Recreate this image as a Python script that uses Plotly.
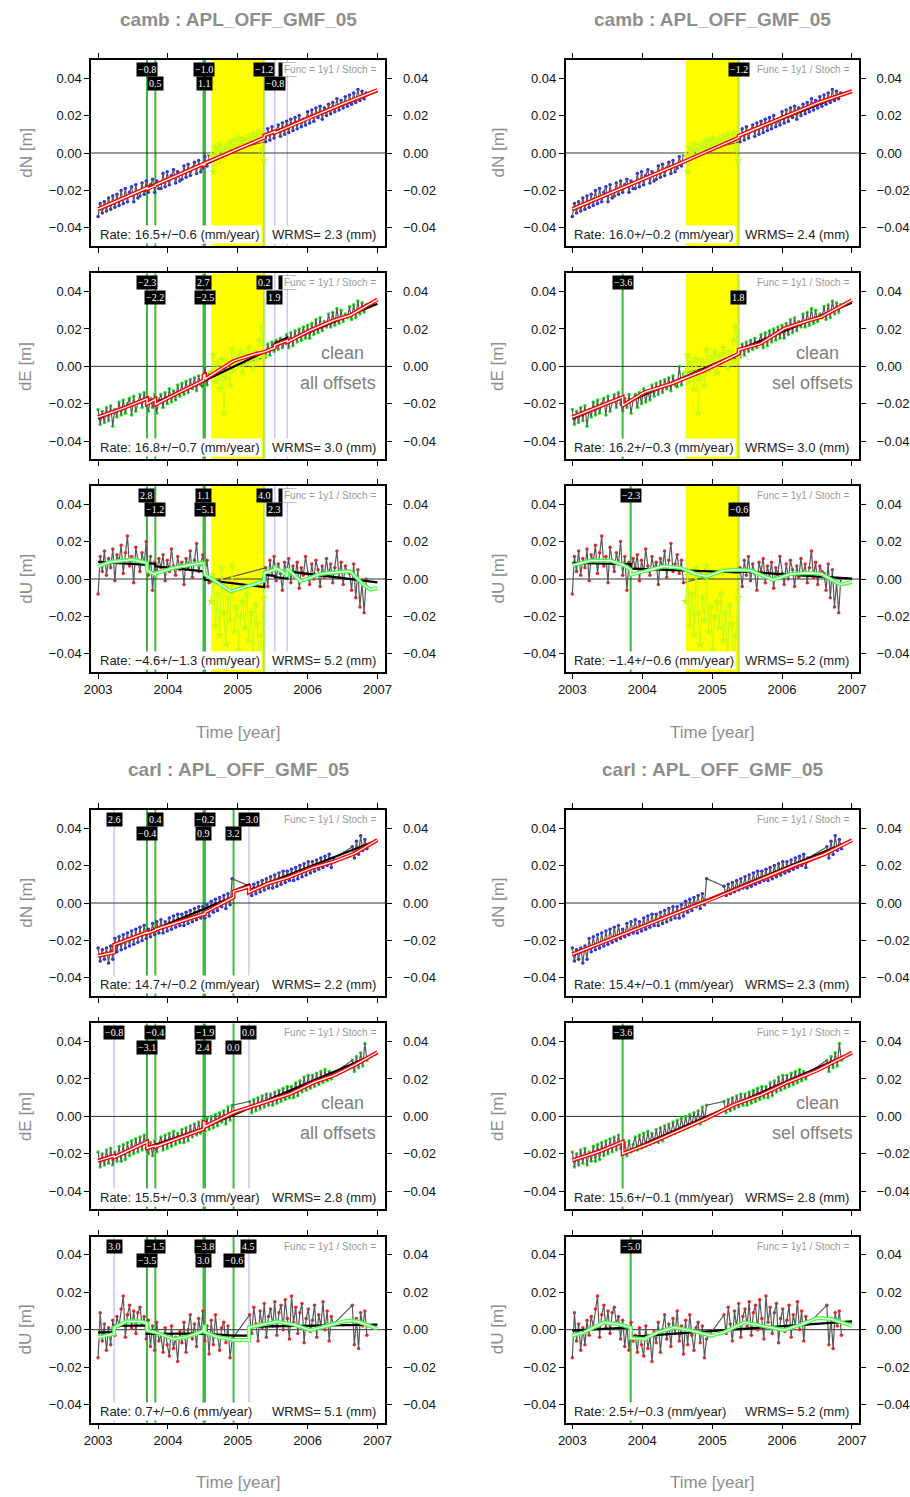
import plotly.graph_objects as go

W, H = 910, 1497

# ---------------- axis ticks ----------------
X_TICK_VALS = [2003, 2004, 2005, 2006, 2007]
X_TICK_TEXT = ["2003", "2004", "2005", "2006", "2007"]
Y_TICK_VALS = [-0.04, -0.02, 0.0, 0.02, 0.04]
Y_TICK_TEXT = ["\u22120.04", "\u22120.02", "0.00", "0.02", "0.04"]

# ---------------- camb data (mm) ----------------
CAMB_T = [2003.00, 2003.03, 2003.06, 2003.09, 2003.12, 2003.15, 2003.18, 2003.21, 2003.24, 2003.27,
          2003.30, 2003.33, 2003.36, 2003.39, 2003.42, 2003.45, 2003.48, 2003.51, 2003.54, 2003.57,
          2003.60, 2003.63, 2003.66, 2003.69, 2003.72, 2003.75, 2003.78, 2003.81, 2003.84, 2003.87,
          2003.90, 2003.93, 2003.96, 2003.99, 2004.02, 2004.05, 2004.08, 2004.11, 2004.14, 2004.17,
          2004.20, 2004.23, 2004.26, 2004.29, 2004.32, 2004.35, 2004.38, 2004.41, 2004.44, 2004.47,
          2004.50, 2004.53, 2004.56, 2004.59, 2004.62, 2004.65, 2004.68, 2004.71, 2004.74, 2004.77,
          2004.80, 2004.83, 2004.86, 2004.89, 2004.92, 2004.95, 2004.98, 2005.01, 2005.04, 2005.07,
          2005.10, 2005.13, 2005.16, 2005.19, 2005.22, 2005.25, 2005.28, 2005.31, 2005.34, 2005.37,
          2005.40, 2005.43, 2005.46, 2005.49, 2005.52, 2005.55, 2005.58, 2005.61, 2005.64, 2005.67,
          2005.70, 2005.73, 2005.76, 2005.79, 2005.82, 2005.85, 2005.88, 2005.91, 2005.94, 2005.97,
          2006.00, 2006.03, 2006.06, 2006.09, 2006.12, 2006.15, 2006.18, 2006.21, 2006.24, 2006.27,
          2006.30, 2006.33, 2006.36, 2006.39, 2006.42, 2006.45, 2006.48, 2006.51, 2006.54, 2006.57,
          2006.60, 2006.63, 2006.66, 2006.69, 2006.72, 2006.75, 2006.78, 2006.81, 2006.84]
CAMB_N = [-34, -27, -32, -26, -31, -24, -30, -23, -29, -22,
          -28, -20, -27, -19, -26, -21, -18, -26, -17, -24,
          -23, -16, -22, -15, -21, -17, -14, -21, -15, -19,
          -19, -11, -18, -10, -17, -12, -9, -16, -10, -15,
          -14, -7, -13, -6, -12, -8, -5, -11, -4, -10,
          -8, -2, -7, -1, -1, -10, 3, 0, 5, 2,
          1, 4, 2, 6, 3, 7, 4, 8, 5, 6,
          7, 5, 9, 6, 10, 7, 8, 11, 2, -4,
          6, 13, 7, 14, 8, 12, 15, 9, 16, 10,
          17, 11, 18, 12, 19, 13, 20, 14, 18, 15,
          22, 16, 23, 17, 24, 19, 25, 18, 24, 20,
          26, 21, 27, 22, 29, 23, 28, 24, 30, 25,
          31, 26, 32, 27, 34, 28, 33, 29, 32]
CAMB_E = [-23, -31, -24, -30, -22, -29, -21, -32, -23, -27,
          -19, -26, -18, -25, -20, -17, -26, -16, -24, -19,
          -15, -22, -14, -20, -24, -17, -22, -15, -25, -18,
          -15, -22, -14, -20, -12, -19, -13, -18, -10, -16,
          -9, -15, -8, -14, -7, -12, -6, -13, -5, -10,
          -11, 0, -10, -4, -3, 6, -8, 2, -12, 4,
          -25, -6, 3, -10, 9, -2, 5, 1, 8, -3,
          6, 2, 10, 4, -1, 8, 3, 14, 21, 5,
          5, 12, 6, 13, 8, 14, 9, 15, 10, 13,
          17, 10, 18, 11, 19, 13, 20, 14, 21, 15,
          22, 15, 23, 17, 25, 18, 26, 19, 24, 21,
          28, 21, 29, 22, 31, 23, 30, 24, 28, 26,
          32, 25, 33, 26, 35, 28, 34, 29, 33]
CAMB_U = [-8, 12, 4, 15, 2, 11, 6, 16, -1, 13,
          9, 18, 3, 14, 23, 7, 12, -2, 17, 10,
          4, 14, 8, 20, 2, 12, -6, 9, 3, 11,
          6, 13, -1, 10, 4, 16, 7, 2, 12, 5,
          9, -3, 11, 6, 15, 1, 10, 19, 4, 8,
          13, 3, 10, -2, -12, 2, -25, -8, -30, 6,
          -18, -35, -10, -22, 7, -28, -15, -38, -20, -12,
          -26, -8, -33, -18, -40, -14, -24, -45, -30, -10,
          6, -4, 10, 2, 12, -1, 8, 3, -6, 9,
          4, 11, -2, 7, 1, 9, -5, 6, 2, 12,
          3, -3, 8, 0, 10, 5, -4, 7, 1, 11,
          2, 8, -2, 6, 15, 1, 9, -3, 7, 4,
          3, -6, 8, -10, 5, -15, -2, -18, 0]
CAMB_EXCL_START = 2004.62
CAMB_EXCL_END = 2005.38

# ---------------- carl data (mm) ----------------
CARL_T = [2003.00, 2003.03, 2003.06, 2003.09, 2003.12, 2003.15, 2003.18, 2003.21, 2003.24, 2003.27,
          2003.30, 2003.33, 2003.36, 2003.39, 2003.42, 2003.45, 2003.48, 2003.51, 2003.54, 2003.57,
          2003.60, 2003.63, 2003.66, 2003.69, 2003.72, 2003.75, 2003.78, 2003.81, 2003.84, 2003.87,
          2003.90, 2003.93, 2003.96, 2003.99, 2004.02, 2004.05, 2004.08, 2004.11, 2004.14, 2004.17,
          2004.20, 2004.23, 2004.26, 2004.29, 2004.32, 2004.35, 2004.38, 2004.41, 2004.44, 2004.47,
          2004.50, 2004.53, 2004.56, 2004.59, 2004.62, 2004.65, 2004.68, 2004.71, 2004.74, 2004.77,
          2004.80, 2004.83, 2004.86, 2004.89, 2004.92,
          2005.17, 2005.20, 2005.23, 2005.26, 2005.29, 2005.32, 2005.35, 2005.38, 2005.41, 2005.44,
          2005.47, 2005.50, 2005.53, 2005.56, 2005.59, 2005.62, 2005.65, 2005.68, 2005.71, 2005.74,
          2005.77, 2005.80, 2005.83, 2005.86, 2005.89, 2005.92, 2005.95, 2005.98, 2006.01, 2006.04,
          2006.07, 2006.10, 2006.13, 2006.16, 2006.19, 2006.22, 2006.25, 2006.28, 2006.31, 2006.34,
          2006.37,
          2006.64, 2006.67, 2006.70, 2006.73, 2006.76, 2006.79, 2006.82, 2006.85]
CARL_N = [-24, -31, -25, -30, -24, -32, -23, -30, -19, -26,
          -18, -25, -17, -24, -16, -23, -15, -22, -14, -21,
          -13, -20, -12, -19, -14, -18, -11, -17, -10, -16,
          -9, -16, -10, -15, -8, -14, -7, -13, -6, -12,
          -6, -12, -5, -11, -4, -10, -3, -9, -2, -8,
          -2, -8, -1, -7, 1, -5, 2, -4, 3, -2,
          4, -3, 5, -1, 13,
          9, 4, 10, 5, 11, 6, 12, 7, 13, 8,
          14, 8, 15, 9, 16, 10, 17, 11, 17, 12,
          18, 12, 19, 13, 20, 14, 21, 15, 22, 16,
          22, 17, 23, 18, 24, 19, 25, 20, 26, 19,
          24,
          30, 24, 33, 26, 36, 28, 34, 29]
CARL_E = [-19, -27, -20, -26, -18, -25, -17, -26, -19, -24,
          -16, -24, -15, -23, -14, -21, -13, -20, -12, -19,
          -11, -18, -10, -17, -20, -14, -21, -13, -19, -15,
          -11, -18, -10, -17, -9, -16, -8, -15, -9, -14,
          -7, -14, -6, -13, -5, -11, -4, -10, -3, -9,
          -2, -8, -1, -7, 0, -6, 1, -5, 2, -3,
          3, -4, 5, -2, 6,
          8, 2, 9, 3, 10, 4, 11, 5, 12, 6,
          12, 6, 13, 7, 14, 8, 15, 9, 16, 10,
          16, 10, 18, 11, 19, 13, 21, 14, 22, 15,
          22, 16, 23, 17, 24, 18, 25, 19, 24, 20,
          23,
          30, 24, 32, 26, 34, 27, 39, 30]
CARL_U = [-15, 9, -6, 3, -11, 1, -8, 5, -3, 7,
          2, 11, 18, -4, 8, 13, 1, 10, -2, 9,
          12, 3, 7, -5, 5, -9, 2, -11, 4, -6,
          -3, -12, 1, -8, -14, 2, -10, -4, -17, -1,
          -7, 4, -12, 0, 8, -5, 3, -9, 6, -2,
          10, -6, 2, -13, 5, -8, 8, -3, -11, 1,
          4, -7, 2, -15, -5,
          8, -2, 12, 3, -6, 10, 1, 14, -4, 7,
          11, 2, 15, -3, 9, 13, 0, 16, 6, -5,
          18, 4, 12, -2, 9, 14, -7, 6, 11, -1,
          5, 13, -4, 8, 2, 15, 0, 10, -6, 7,
          3,
          13, -8, 6, -10, 9, 2, 10, -3]

# ---------------- fitted models (mm) ----------------
CAMB_N_ALL_FIT_T = [2003.00, 2003.70, 2003.70, 2003.82, 2003.82, 2004.51, 2004.51, 2004.53, 2004.53, 2005.38, 2005.38, 2005.53, 2005.53, 2005.71, 2005.71, 2006.00, 2006.50, 2007.00]
CAMB_N_ALL_FIT_V = [-30.0, -18.6, -19.3, -17.5, -17.0, -5.8, -6.5, -6.3, -5.4, 8.2, 9.4, 11.4, 10.8, 13.6, 13.9, 18.5, 26.2, 33.6]
CAMB_N_ALL_TREND_T = [2003.00, 2003.70, 2003.70, 2004.51, 2004.51, 2005.38, 2005.38, 2007.00]
CAMB_N_ALL_TREND_V = [-30.5, -19.0, -19.5, -6.0, -6.5, 8.0, 9.2, 33.0]
CAMB_E_ALL_FIT_T = [2003.00, 2003.35, 2003.70, 2003.70, 2003.82, 2003.82, 2004.10, 2004.51, 2004.51, 2004.53, 2004.53, 2004.94, 2005.22, 2005.38, 2005.53, 2005.53, 2005.71, 2005.71, 2006.04, 2006.37, 2006.61, 2007.00]
CAMB_E_ALL_FIT_V = [-27.1, -22.5, -17.3, -20.0, -17.5, -20.4, -15.0, -7.5, -4.8, -4.5, -6.8, 2.9, 6.3, 7.7, 10.0, 11.3, 13.9, 13.0, 19.3, 24.6, 27.3, 35.7]
CAMB_E_ALL_TREND_T = [2003.00, 2003.70, 2003.70, 2003.82, 2003.82, 2004.51, 2004.51, 2004.53, 2004.53, 2005.38, 2005.53, 2005.53, 2005.71, 2005.71, 2007.00]
CAMB_E_ALL_TREND_V = [-28.0, -16.8, -19.1, -17.2, -19.4, -8.0, -5.3, -5.0, -7.5, 7.8, 10.3, 12.2, 15.3, 13.4, 33.5]
CAMB_U_ALL_FIT_T = [2003.00, 2003.17, 2003.50, 2003.65, 2003.70, 2003.70, 2003.82, 2003.82, 2004.08, 2004.27, 2004.51, 2004.53, 2004.65, 2004.90, 2005.13, 2005.37, 2005.38, 2005.53, 2005.53, 2005.63, 2005.71, 2005.71, 2005.90, 2006.18, 2006.47, 2006.61, 2006.80, 2006.90, 2007.00]
CAMB_U_ALL_FIT_V = [6.8, 9.1, 10.4, 9.0, 8.5, 4.5, 2.3, 3.0, 5.9, 7.3, 8.6, 2.3, -0.4, -6.6, -3.9, -1.2, 3.2, 5.0, 6.0, 4.1, 1.4, 5.5, -1.2, 2.7, 3.8, 4.1, -3.0, -5.7, -4.8]
CAMB_U_ALL_TREND_T = [2003.00, 2003.70, 2003.70, 2003.82, 2003.82, 2004.51, 2004.53, 2005.38, 2005.38, 2005.53, 2005.53, 2005.71, 2005.71, 2007.00]
CAMB_U_ALL_TREND_V = [9.1, 7.6, 8.6, 8.0, 6.8, 4.1, -0.4, -4.3, 2.3, 1.6, 1.0, 0.2, 4.1, -1.8]
CAMB_N_SEL_FIT_T = [2003.00, 2003.50, 2004.00, 2004.50, 2005.00, 2005.38, 2005.38, 2006.00, 2006.50, 2007.00]
CAMB_N_SEL_FIT_V = [-30.0, -22.2, -14.0, -6.2, 2.0, 8.2, 9.2, 18.8, 26.6, 33.0]
CAMB_N_SEL_TREND_T = [2003.00, 2005.38, 2005.38, 2007.00]
CAMB_N_SEL_TREND_V = [-30.5, 8.0, 9.0, 33.0]
CAMB_E_SEL_FIT_T = [2003.00, 2003.35, 2003.72, 2003.72, 2004.03, 2004.41, 2004.89, 2005.38, 2005.38, 2005.69, 2006.03, 2006.32, 2006.56, 2007.00]
CAMB_E_SEL_FIT_V = [-27.1, -21.8, -16.4, -20.9, -13.8, -9.3, -2.1, 6.8, 8.9, 12.1, 20.2, 23.8, 26.4, 35.4]
CAMB_E_SEL_TREND_T = [2003.00, 2003.72, 2003.72, 2005.38, 2005.38, 2007.00]
CAMB_E_SEL_TREND_V = [-28.0, -16.6, -20.2, 7.0, 8.8, 34.0]
CAMB_U_SEL_FIT_T = [2003.00, 2003.26, 2003.55, 2003.74, 2003.835, 2003.835, 2004.03, 2004.31, 2004.55, 2004.79, 2004.93, 2005.17, 2005.36, 2005.55, 2005.75, 2005.87, 2006.13, 2006.37, 2006.56, 2006.75, 2006.84, 2007.00]
CAMB_U_SEL_FIT_V = [7.3, 9.8, 9.8, 7.3, 5.0, 2.3, 4.1, 6.8, 5.9, 2.3, 1.4, 4.6, 5.0, 4.5, 1.4, -0.4, 2.7, 3.2, 2.7, -1.2, -3.0, -1.6]
CAMB_U_SEL_TREND_T = [2003.00, 2003.835, 2003.835, 2005.38, 2005.38, 2007.00]
CAMB_U_SEL_TREND_V = [8.6, 8.0, 5.5, 3.6, 4.1, 0.2]
CARL_N_ALL_FIT_T = [2003.00, 2003.23, 2003.23, 2003.70, 2003.70, 2003.82, 2003.82, 2004.51, 2004.51, 2004.53, 2004.53, 2004.94, 2004.94, 2005.16, 2005.16, 2005.42, 2005.71, 2006.09, 2006.37, 2006.66, 2007.00]
CARL_N_ALL_FIT_V = [-28.2, -26.4, -22.3, -15.7, -16.1, -14.6, -14.2, -5.9, -6.1, -5.9, -5.0, 3.0, 6.2, 8.7, 5.7, 10.2, 13.4, 19.1, 22.1, 26.2, 33.7]
CARL_N_ALL_TREND_T = [2003.00, 2003.23, 2003.23, 2004.94, 2004.94, 2005.16, 2005.16, 2007.00]
CARL_N_ALL_TREND_V = [-28.5, -26.0, -23.0, 3.3, 6.5, 9.8, 6.8, 33.5]
CARL_E_ALL_FIT_T = [2003.00, 2003.23, 2003.23, 2003.70, 2003.70, 2003.82, 2003.82, 2004.51, 2004.51, 2004.53, 2004.53, 2004.94, 2005.16, 2005.42, 2005.75, 2006.09, 2006.37, 2006.66, 2007.00]
CARL_E_ALL_FIT_V = [-23.7, -21.1, -21.9, -13.6, -17.0, -15.8, -16.2, -6.8, -2.9, -3.4, -5.5, 2.1, 4.8, 7.9, 12.0, 18.2, 21.8, 27.1, 34.3]
CARL_E_ALL_TREND_T = [2003.00, 2003.23, 2003.23, 2003.70, 2003.70, 2004.51, 2004.51, 2004.53, 2004.53, 2007.00]
CARL_E_ALL_TREND_V = [-24.0, -20.8, -21.6, -13.5, -16.6, -6.4, -3.0, -3.3, -5.7, 33.8]
CARL_U_ALL_FIT_T = [2003.00, 2003.23, 2003.23, 2003.41, 2003.60, 2003.70, 2003.70, 2003.82, 2004.08, 2004.27, 2004.46, 2004.51, 2004.51, 2004.53, 2004.53, 2004.70, 2004.94, 2005.16, 2005.16, 2005.42, 2005.56, 2005.80, 2006.04, 2006.28, 2006.56, 2006.71, 2007.00]
CARL_U_ALL_FIT_V = [-4.1, -2.3, 1.2, 4.5, 4.5, 3.4, -0.5, -1.4, -5.0, -3.8, -1.4, -0.5, 1.8, 1.8, -1.4, -3.8, -5.5, -5.5, 1.2, 3.4, 4.3, 2.7, -0.2, 2.1, 4.8, 4.5, 0.4]
CARL_U_ALL_TREND_T = [2003.00, 2003.23, 2003.23, 2003.70, 2003.70, 2004.51, 2004.51, 2004.53, 2004.53, 2004.94, 2004.94, 2005.16, 2005.16, 2007.00]
CARL_U_ALL_TREND_V = [-1.4, -1.4, 2.1, 2.2, -2.3, -2.0, 0.0, -0.3, -2.2, -3.2, -3.2, -3.2, 1.6, 2.7]
CARL_N_SEL_FIT_T = [2003.00, 2003.40, 2003.80, 2004.20, 2004.60, 2005.00, 2005.40, 2005.80, 2006.20, 2006.60, 2007.00]
CARL_N_SEL_FIT_V = [-27.5, -21.5, -15.5, -9.5, -3.8, 2.0, 8.2, 14.2, 20.5, 26.0, 33.5]
CARL_N_SEL_TREND_T = [2003.00, 2007.00]
CARL_N_SEL_TREND_V = [-28.0, 33.5]
CARL_E_SEL_FIT_T = [2003.00, 2003.40, 2003.72, 2003.72, 2004.10, 2004.50, 2004.90, 2005.30, 2005.70, 2006.10, 2006.50, 2007.00]
CARL_E_SEL_FIT_V = [-23.5, -18.5, -13.5, -20.0, -14.5, -8.0, -1.5, 6.0, 11.5, 18.5, 24.5, 34.0]
CARL_E_SEL_TREND_T = [2003.00, 2003.72, 2003.72, 2007.00]
CARL_E_SEL_TREND_V = [-23.8, -13.5, -19.8, 34.0]
CARL_U_SEL_FIT_T = [2003.00, 2003.17, 2003.45, 2003.65, 2003.835, 2003.835, 2004.03, 2004.22, 2004.46, 2004.70, 2004.98, 2005.17, 2005.46, 2005.70, 2006.03, 2006.27, 2006.51, 2006.70, 2007.00]
CARL_U_SEL_FIT_V = [-3.2, -1.4, 3.9, 3.0, 1.2, -4.5, -5.0, -1.4, 1.2, -0.5, -3.2, -1.4, 3.9, 2.1, -0.2, 2.7, 6.3, 5.7, 2.1]
CARL_U_SEL_TREND_T = [2003.00, 2003.835, 2003.835, 2007.00]
CARL_U_SEL_TREND_V = [-0.5, 1.2, -3.8, 4.5]

# ---------------- offsets & labels ("" = label hidden behind the Func text) ----------------
CAMB_ALL_OFF_T = [2003.70, 2003.82, 2004.51, 2004.53, 2005.38, 2005.53, 2005.71]
CAMB_ALL_OFF_KIND = ["g", "g", "g", "g", "y", "b", "b"]
CAMB_ALL_LBL_N = ["\u22120.8", "0.5", "\u22121.0", "1.1", "\u22121.2", "\u22120.8", ""]
CAMB_ALL_LBL_E = ["\u22122.3", "\u22122.2", "2.7", "\u22122.5", "0.2", "1.9", ""]
CAMB_ALL_LBL_U = ["2.8", "\u22121.2", "1.1", "\u22125.1", "4.0", "2.3", ""]
CARL_ALL_OFF_T = [2003.23, 2003.70, 2003.82, 2004.51, 2004.53, 2004.94, 2005.16]
CARL_ALL_OFF_KIND = ["b", "g", "g", "g", "g", "g", "b"]
CARL_ALL_LBL_N = ["2.6", "\u22120.4", "0.4", "0.9", "\u22120.2", "3.2", "\u22123.0"]
CARL_ALL_LBL_E = ["\u22120.8", "\u22123.1", "\u22120.4", "2.4", "\u22121.9", "0.0", "0.0"]
CARL_ALL_LBL_U = ["3.0", "\u22123.5", "\u22121.5", "3.0", "\u22123.8", "\u22120.6", "4.5"]
CAMB_SEL_N_OFF_T = [2005.38]; CAMB_SEL_N_OFF_KIND = ["y"]; CAMB_SEL_N_LBL = ["\u22121.2"]
CAMB_SEL_E_OFF_T = [2003.72, 2005.38]; CAMB_SEL_E_OFF_KIND = ["g", "y"]; CAMB_SEL_E_LBL = ["\u22123.6", "1.8"]
CAMB_SEL_U_OFF_T = [2003.835, 2005.38]; CAMB_SEL_U_OFF_KIND = ["g", "y"]; CAMB_SEL_U_LBL = ["\u22122.3", "\u22120.6"]
CARL_SEL_N_OFF_T = []; CARL_SEL_N_OFF_KIND = []; CARL_SEL_N_LBL = []
CARL_SEL_E_OFF_T = [2003.72]; CARL_SEL_E_OFF_KIND = ["g"]; CARL_SEL_E_LBL = ["\u22123.6"]
CARL_SEL_U_OFF_T = [2003.835]; CARL_SEL_U_OFF_KIND = ["g"]; CARL_SEL_U_LBL = ["\u22125.0"]

# ---------------- rates / wrms ----------------
RATES = {
    ("camb", "all"): ["16.5+/\u22120.6", "16.8+/\u22120.7", "\u22124.6+/\u22121.3"],
    ("camb", "sel"): ["16.0+/\u22120.2", "16.2+/\u22120.3", "\u22121.4+/\u22120.6"],
    ("carl", "all"): ["14.7+/\u22120.2", "15.5+/\u22120.3", "0.7+/\u22120.6"],
    ("carl", "sel"): ["15.4+/\u22120.1", "15.6+/\u22120.1", "2.5+/\u22120.3"],
}
WRMS = {
    ("camb", "all"): ["2.3", "3.0", "5.2"],
    ("camb", "sel"): ["2.4", "3.0", "5.2"],
    ("carl", "all"): ["2.2", "2.8", "5.1"],
    ("carl", "sel"): ["2.3", "2.8", "5.2"],
}
COMPS = ["N", "E", "U"]
STATION_NAMES = ["camb", "carl"]
TITLE_SUFFIX = " : APL_OFF_GMF_05"

# ---------------- styling / geometry ----------------
SANS = "Liberation Sans, Arial, Helvetica, sans-serif"
SERIF = "Liberation Serif, Times New Roman, serif"
GRAY_TXT = "#8e8e8e"
# page pixel -> paper fraction (the page shows the figure 894 px wide, 8 px from the left)
OFFX, EFFW = 8.0, 894.0


def xf(px):
    return (px - OFFX) / EFFW


COL_GEOM = {
    "all": dict(x0=91, x1=385, xr=[2002.8996, 2007.1147], ytx=25.7, cx=238, offx=2007.01, fx=2007.01),
    "sel": dict(x0=565, x1=858, xr=[2002.904, 2007.100], ytx=497, cx=711.5, offx=2007.045, fx=2006.99),
}
ROW_TOPS = {"camb": [60, 273.4, 486], "carl": [810, 1023.4, 1236.7]}
TITLE_Y = {"camb": 19, "carl": 769}
XTITLE_Y = {"camb": 732, "carl": 1482}
BOX_H = 186
Y_RANGE = [-0.0497, 0.0497]
ROW_Y = [0.0447, 0.0369]
RATE_Y = -0.0436
MARK_COL = {"N": "rgb(40,40,255)", "E": "rgb(30,225,30)", "U": "rgb(255,35,35)"}
FIT_COL = {"N": "rgb(255,0,0)", "E": "rgb(255,0,0)", "U": "rgb(70,255,70)"}
OFF_STYLE = {"g": ("rgb(60,185,60)", 2), "y": ("rgba(60,190,60,0.35)", 2.5), "b": ("rgb(200,200,255)", 1.5)}

G = globals()


def sid(n):
    return "" if n == 1 else str(n)


fig = go.Figure()
layout = dict(width=W, height=H, autosize=False, margin=dict(l=0, r=0, t=0, b=0, pad=0),
              paper_bgcolor="white", plot_bgcolor="white", showlegend=False)
shapes, annotations = [], []

k = 0
for st in STATION_NAMES:
    for col in ["all", "sel"]:
        g = COL_GEOM[col]
        annotations.append(dict(xref="paper", yref="paper", x=xf(g["cx"]), y=1 - TITLE_Y[st] / H,
                                xanchor="center", yanchor="middle",
                                text="<b>" + st + TITLE_SUFFIX + "</b>", showarrow=False,
                                font=dict(family=SANS, size=19, color=GRAY_TXT)))
        annotations.append(dict(xref="paper", yref="paper", x=xf(g["cx"]), y=1 - XTITLE_Y[st] / H,
                                xanchor="center", yanchor="middle",
                                text="Time [year]", showarrow=False,
                                font=dict(family=SANS, size=17, color=GRAY_TXT)))
        for ci, comp in enumerate(COMPS):
            n = k + 1
            m = k + 13
            xs, ys, yo = "x" + sid(n), "y" + sid(n), "y" + sid(m)
            top = ROW_TOPS[st][ci]
            bottom = comp == "U"
            layout["xaxis" + sid(n)] = dict(
                domain=[xf(g["x0"]), xf(g["x1"])], range=g["xr"], anchor=ys,
                tickvals=X_TICK_VALS, ticktext=X_TICK_TEXT, showticklabels=bottom,
                ticks="outside", ticklen=5, tickcolor="black", tickwidth=1,
                showline=True, linecolor="black", linewidth=1.5, mirror="ticks",
                showgrid=False, zeroline=False,
                tickfont=dict(family=SANS, size=13, color="#111"))
            layout["yaxis" + sid(n)] = dict(
                domain=[1 - (top + BOX_H) / H, 1 - top / H], range=Y_RANGE, anchor=xs,
                tickvals=Y_TICK_VALS, ticktext=Y_TICK_TEXT,
                ticks="outside", ticklen=5, tickcolor="black", tickwidth=1,
                showline=True, linecolor="black", linewidth=1.5, mirror="ticks",
                showgrid=False, zeroline=False,
                tickfont=dict(family=SANS, size=13, color="#111"))
            layout["yaxis" + sid(m)] = dict(
                overlaying=ys, side="right", anchor=xs, range=Y_RANGE,
                tickvals=Y_TICK_VALS, ticktext=Y_TICK_TEXT,
                ticks="outside", ticklen=5, tickcolor="black", tickwidth=1, ticklabelstandoff=9,
                showline=False, showgrid=False, zeroline=False,
                tickfont=dict(family=SANS, size=13, color="#111"))

            excl = None
            if st == "camb":
                excl = (CAMB_EXCL_START, CAMB_EXCL_END)
                shapes.append(dict(type="rect", xref=xs, yref=ys + " domain", x0=excl[0], x1=excl[1],
                                   y0=0, y1=1, fillcolor="#ffff00", line=dict(width=0), layer="below"))
            if col == "all":
                offT = G[f"{st.upper()}_ALL_OFF_T"]
                offK = G[f"{st.upper()}_ALL_OFF_KIND"]
                offL = G[f"{st.upper()}_ALL_LBL_{comp}"]
            else:
                offT = G[f"{st.upper()}_SEL_{comp}_OFF_T"]
                offK = G[f"{st.upper()}_SEL_{comp}_OFF_KIND"]
                offL = G[f"{st.upper()}_SEL_{comp}_LBL"]
            for t0, kd in zip(offT, offK):
                c, wd = OFF_STYLE[kd]
                shapes.append(dict(type="line", xref=xs, yref=ys + " domain", x0=t0, x1=t0, y0=0, y1=1,
                                   line=dict(color=c, width=wd), layer="below"))
            shapes.append(dict(type="line", xref=xs + " domain", yref=ys, x0=0, x1=1, y0=0, y1=0,
                               line=dict(color="#333", width=1), layer="below"))

            T = G[f"{st.upper()}_T"]
            V = G[f"{st.upper()}_{comp}"]
            kt, kv, et, ev = [], [], [], []
            for ti, vi in zip(T, V):
                if excl and excl[0] - 0.005 <= ti <= excl[1] + 0.005:
                    et.append(ti); ev.append(vi / 1000.0)
                else:
                    kt.append(ti); kv.append(vi / 1000.0)
            fig.add_trace(go.Scatter(x=kt, y=kv, mode="markers", xaxis=xs, yaxis=ys, hoverinfo="skip",
                                     marker=dict(size=3.5, color=MARK_COL[comp])))
            fig.add_trace(go.Scatter(x=kt, y=kv, mode="lines", xaxis=xs, yaxis=ys, hoverinfo="skip",
                                     line=dict(color="rgb(88,88,88)", width=1.2)))
            if et:
                fig.add_trace(go.Scatter(x=et, y=ev, mode="lines+markers", xaxis=xs, yaxis=ys, hoverinfo="skip",
                                         line=dict(color="rgb(200,250,20)", width=1),
                                         marker=dict(symbol="star", size=7, color="rgb(200,250,20)")))
            key = "ALL" if col == "all" else "SEL"
            tt = G[f"{st.upper()}_{comp}_{key}_TREND_T"]
            tv = [v / 1000.0 for v in G[f"{st.upper()}_{comp}_{key}_TREND_V"]]
            ft = G[f"{st.upper()}_{comp}_{key}_FIT_T"]
            fv = [v / 1000.0 for v in G[f"{st.upper()}_{comp}_{key}_FIT_V"]]
            fig.add_trace(go.Scatter(x=tt, y=tv, mode="lines", xaxis=xs, yaxis=yo, hoverinfo="skip",
                                     line=dict(color="black", width=2.2)))
            fig.add_trace(go.Scatter(x=ft, y=fv, mode="lines", xaxis=xs, yaxis=yo, hoverinfo="skip",
                                     line=dict(color=FIT_COL[comp], width=4)))
            fig.add_trace(go.Scatter(x=ft, y=fv, mode="lines", xaxis=xs, yaxis=yo, hoverinfo="skip",
                                     line=dict(color="white", width=1.3)))

            for i, (t0, lb) in enumerate(zip(offT, offL)):
                annotations.append(dict(x=t0, y=ROW_Y[i % 2], xref=xs, yref=ys,
                                        text=(lb if lb else "\u00a0" * 6), showarrow=False,
                                        xanchor="center", yanchor="middle",
                                        font=dict(family=SERIF, size=10, color="white"),
                                        bgcolor="black", borderpad=1))
            annotations.append(dict(x=g["fx"], y=ROW_Y[0], xref=xs, yref=ys, xanchor="right", yanchor="middle",
                                    text="Func = 1y1 / Stoch =", showarrow=False,
                                    font=dict(family=SANS, size=10, color="#9a9a9a"),
                                    bgcolor="white", borderpad=1))
            annotations.append(dict(x=2002.995, y=RATE_Y, xref=xs, yref=ys, xanchor="left", yanchor="middle",
                                    text="Rate: " + RATES[(st, col)][ci] + " (mm/year)", showarrow=False,
                                    font=dict(family=SANS, size=13, color="#222"),
                                    bgcolor="white", borderpad=1))
            annotations.append(dict(x=g["fx"], y=RATE_Y, xref=xs, yref=ys, xanchor="right", yanchor="middle",
                                    text="WRMS= " + WRMS[(st, col)][ci] + " (mm)", showarrow=False,
                                    font=dict(family=SANS, size=13, color="#222"),
                                    bgcolor="white", borderpad=1))
            if comp == "E":
                annotations.append(dict(x=2006.50, y=0.0071, xref=xs, yref=ys, xanchor="center", yanchor="middle",
                                        text="clean", showarrow=False,
                                        font=dict(family=SANS, size=18, color="#808080")))
                annotations.append(dict(x=g["offx"], y=-0.0091, xref=xs, yref=ys, xanchor="right", yanchor="middle",
                                        text=("all offsets" if col == "all" else "sel offsets"),
                                        showarrow=False, font=dict(family=SANS, size=18, color="#808080")))
            annotations.append(dict(xref="paper", yref="paper", x=xf(g["ytx"]), y=1 - (top + BOX_H / 2) / H,
                                    xanchor="center", yanchor="middle",
                                    text="d" + comp + " [m]", textangle=-90, showarrow=False,
                                    font=dict(family=SANS, size=17, color=GRAY_TXT)))
            k += 1

layout["shapes"] = shapes
layout["annotations"] = annotations
fig.update_layout(**layout)
fig.write_html("out.html", config={"displayModeBar": False, "responsive": False},
               post_script="document.body.style.margin='0px';")
